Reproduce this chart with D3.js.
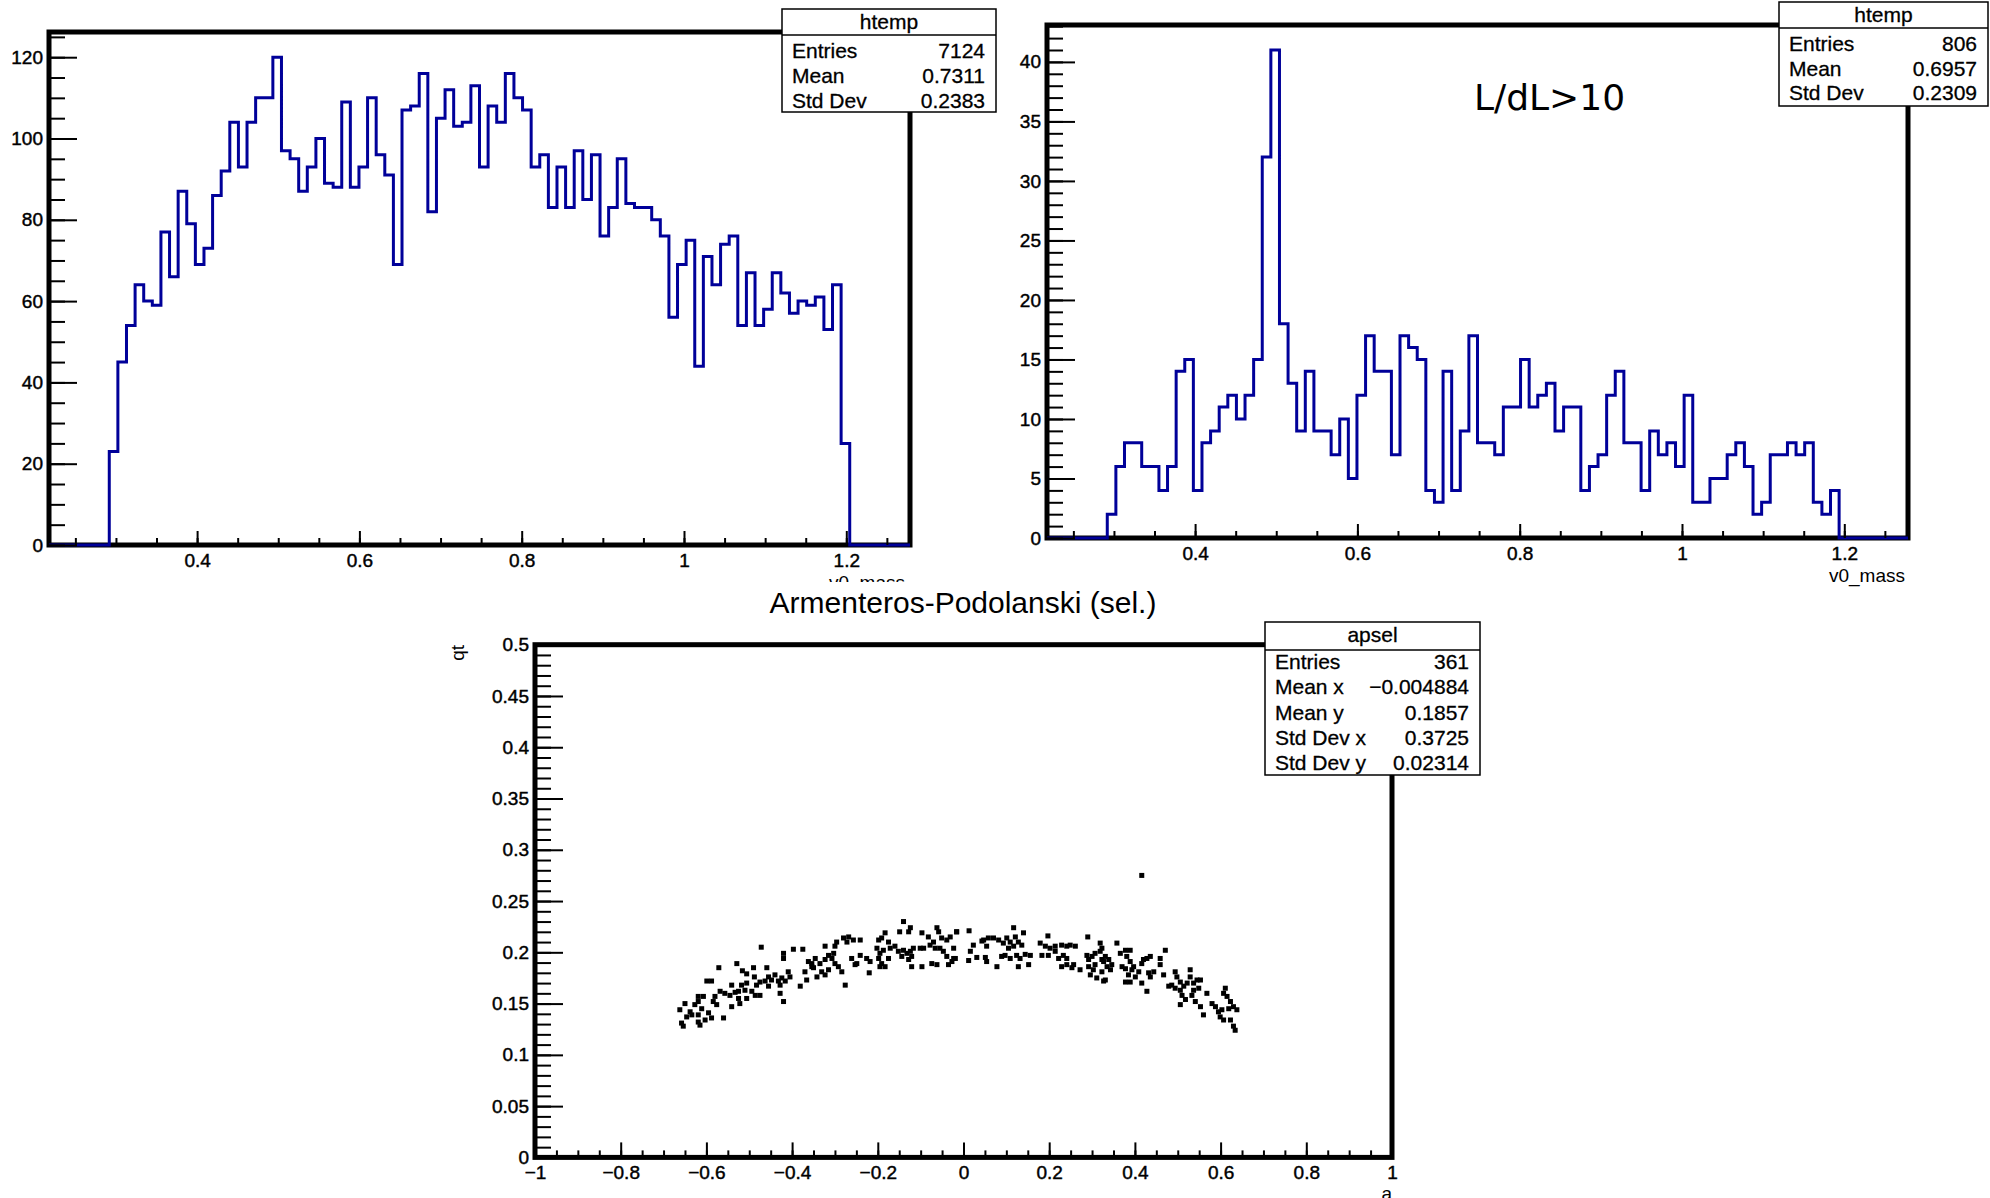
<!DOCTYPE html>
<html>
<head>
<meta charset="utf-8">
<script src="https://cdnjs.cloudflare.com/ajax/libs/d3/7.8.5/d3.min.js"></script>
<style>
body { margin: 0; background: #fff; }
svg { display: block; font-family: "Liberation Sans", Arial, Helvetica, sans-serif; }
</style>
</head>
<body>
<svg id="chart" width="1990" height="1198"></svg>
<script>
// v0_mass binning (both histograms use the same htemp range)
var xMin = 0.2175, xMax = 1.2785, nBins = 100;

// all candidates, 100 bins
var allCounts = [
    0, 0, 0, 0, 0, 0, 0, 23, 45, 54,
    64, 60, 59, 77, 66, 87, 79, 69, 73, 86,
    92, 104, 93, 104, 110, 110, 120, 97, 95, 87,
    93, 100, 89, 88, 109, 88, 93, 110, 96, 91,
    69, 107, 108, 116, 82, 105, 112, 103, 104, 113,
    93, 108, 104, 116, 110, 107, 93, 96, 83, 93,
    83, 97, 85, 96, 76, 83, 95, 84, 83, 83,
    80, 76, 56, 69, 75, 44, 71, 64, 74, 76,
    54, 67, 54, 58, 67, 62, 57, 60, 59, 61,
    53, 64, 25, 0, 0, 0, 0, 0, 0, 0
];

// L/dL>10 selection, 100 bins
var selCounts = [
    0, 0, 0, 0, 0, 0, 0, 2, 6, 8,
    8, 6, 6, 4, 6, 14, 15, 4, 8, 9,
    11, 12, 10, 12, 15, 32, 41, 18, 13, 9,
    14, 9, 9, 7, 10, 5, 12, 17, 14, 14,
    7, 17, 16, 15, 4, 3, 14, 4, 9, 17,
    8, 8, 7, 11, 11, 15, 11, 12, 13, 9,
    11, 11, 4, 6, 7, 12, 14, 8, 8, 4,
    9, 7, 8, 6, 12, 3, 3, 5, 5, 7,
    8, 6, 2, 3, 7, 7, 8, 7, 8, 3,
    2, 4, 0, 0, 0, 0, 0, 0, 0, 0
];

var massTicks = [0.4, 0.6, 0.8, 1, 1.2];
var allYTicks = [0, 20, 40, 60, 80, 100, 120];
var selYTicks = [0, 5, 10, 15, 20, 25, 30, 35, 40];
var apTicksX = [-1, -0.8, -0.6, -0.4, -0.2, 0, 0.2, 0.4, 0.6, 0.8, 1];
var apTicksY = [0, 0.05, 0.1, 0.15, 0.2, 0.25, 0.3, 0.35, 0.4, 0.45, 0.5];

var statsAll = [["Entries", "7124"], ["Mean", "0.7311"], ["Std Dev", "0.2383"]];
var statsSel = [["Entries", "806"], ["Mean", "0.6957"], ["Std Dev", "0.2309"]];
var statsAp = [["Entries", "361"], ["Mean x", "\u22120.004884"], ["Mean y", "0.1857"],
               ["Std Dev x", "0.3725"], ["Std Dev y", "0.02314"]];

// Armenteros-Podolanski points [alpha, qt]
var apPoints = [
    [-0.472,0.205],[-0.420,0.199],[-0.397,0.203],[-0.375,0.203],[-0.420,0.194],[-0.571,0.185],
    [-0.529,0.189],[-0.362,0.191],[-0.354,0.186],[-0.370,0.181],[-0.516,0.182],[-0.506,0.179],
    [-0.490,0.185],[-0.488,0.176],[-0.459,0.185],[-0.455,0.176],[-0.448,0.173],[-0.440,0.178],
    [-0.432,0.172],[-0.428,0.168],[-0.424,0.175],[-0.409,0.181],[-0.405,0.176],[-0.416,0.172],
    [-0.463,0.172],[-0.455,0.167],[-0.599,0.172],[-0.588,0.172],[-0.541,0.168],[-0.506,0.170],
    [-0.483,0.168],[-0.475,0.171],[-0.494,0.162],[-0.486,0.158],[-0.475,0.158],[-0.568,0.162],
    [-0.557,0.160],[-0.545,0.158],[-0.533,0.161],[-0.518,0.168],[-0.525,0.162],[-0.510,0.163],
    [-0.381,0.167],[-0.366,0.173],[-0.428,0.160],[-0.420,0.152],[-0.619,0.157],[-0.607,0.157],
    [-0.580,0.157],[-0.584,0.152],[-0.576,0.149],[-0.525,0.155],[-0.522,0.150],[-0.506,0.155],
    [-0.541,0.147],[-0.650,0.150],[-0.662,0.144],[-0.638,0.142],[-0.627,0.149],[-0.619,0.152],
    [-0.611,0.145],[-0.634,0.139],[-0.619,0.139],[-0.595,0.141],[-0.588,0.136],[-0.560,0.136],
    [-0.646,0.137],[-0.619,0.132],[-0.615,0.129],[-0.658,0.131],[-0.654,0.128],[-0.603,0.134],
    [-0.140,0.230],[-0.149,0.220],[-0.124,0.224],[-0.128,0.220],[-0.097,0.219],[-0.082,0.215],
    [-0.062,0.224],[-0.058,0.220],[-0.051,0.214],[-0.070,0.210],[-0.066,0.204],[-0.078,0.207],
    [-0.055,0.204],[-0.039,0.212],[-0.031,0.215],[-0.016,0.220],[-0.023,0.204],[-0.183,0.219],
    [-0.198,0.212],[-0.191,0.214],[-0.175,0.210],[-0.280,0.214],[-0.268,0.215],[-0.257,0.212],
    [-0.241,0.212],[-0.272,0.210],[-0.323,0.206],[-0.296,0.210],[-0.300,0.206],[-0.202,0.204],
    [-0.195,0.199],[-0.187,0.202],[-0.171,0.204],[-0.160,0.206],[-0.152,0.201],[-0.140,0.202],
    [-0.132,0.199],[-0.124,0.201],[-0.121,0.196],[-0.117,0.204],[-0.101,0.204],[-0.093,0.204],
    [-0.198,0.194],[-0.191,0.189],[-0.183,0.186],[-0.175,0.194],[-0.195,0.186],[-0.144,0.196],
    [-0.128,0.193],[-0.121,0.186],[-0.097,0.186],[-0.074,0.189],[-0.062,0.188],[-0.039,0.196],
    [-0.027,0.191],[-0.023,0.194],[-0.035,0.188],[-0.047,0.201],[-0.346,0.194],[-0.354,0.189],
    [-0.350,0.185],[-0.335,0.189],[-0.323,0.193],[-0.315,0.197],[-0.303,0.199],[-0.307,0.194],
    [-0.300,0.189],[-0.292,0.186],[-0.284,0.181],[-0.331,0.181],[-0.342,0.176],[-0.323,0.178],
    [-0.315,0.183],[-0.261,0.194],[-0.249,0.189],[-0.241,0.197],[-0.253,0.188],[-0.226,0.194],
    [-0.218,0.191],[-0.220,0.180],[-0.276,0.168],
    [-0.016,0.220],[0.013,0.221],[0.117,0.224],[0.140,0.219],[0.197,0.216],[0.290,0.215],
    [0.319,0.209],[0.023,0.207],[0.043,0.211],[0.054,0.206],[0.051,0.195],[0.031,0.195],
    [0.016,0.201],[0.058,0.214],[0.070,0.214],[0.047,0.212],[0.082,0.212],[0.093,0.209],
    [0.101,0.214],[0.109,0.210],[0.121,0.215],[0.128,0.210],[0.117,0.206],[0.136,0.207],
    [0.105,0.204],[0.097,0.197],[0.089,0.196],[0.109,0.194],[0.124,0.197],[0.132,0.194],
    [0.144,0.198],[0.156,0.197],[0.152,0.188],[0.128,0.186],[0.078,0.186],[0.012,0.192],
    [-0.019,0.194],[0.054,0.191],[0.179,0.209],[0.191,0.206],[0.202,0.204],[0.214,0.206],
    [0.229,0.207],[0.241,0.206],[0.249,0.207],[0.261,0.206],[0.183,0.197],[0.198,0.197],
    [0.214,0.201],[0.222,0.194],[0.233,0.197],[0.241,0.194],[0.229,0.186],[0.241,0.188],
    [0.253,0.185],[0.257,0.188],[0.272,0.183],[0.288,0.197],[0.292,0.193],[0.300,0.196],
    [0.307,0.199],[0.319,0.201],[0.323,0.193],[0.292,0.186],[0.303,0.183],[0.296,0.178],
    [0.311,0.175],[0.307,0.188],[0.323,0.181],[0.327,0.172],
    [0.416,0.275],[0.323,0.204],[0.331,0.196],[0.327,0.191],[0.339,0.193],[0.335,0.186],
    [0.346,0.188],[0.343,0.183],[0.331,0.173],[0.358,0.209],[0.366,0.199],[0.378,0.202],
    [0.389,0.202],[0.381,0.196],[0.370,0.186],[0.378,0.184],[0.389,0.191],[0.393,0.183],
    [0.397,0.186],[0.385,0.178],[0.378,0.171],[0.389,0.171],[0.401,0.176],[0.409,0.181],
    [0.416,0.170],[0.428,0.162],[0.420,0.193],[0.428,0.194],[0.436,0.196],[0.416,0.189],
    [0.432,0.180],[0.436,0.176],[0.444,0.181],[0.459,0.194],[0.459,0.188],[0.471,0.202],
    [0.467,0.178],[0.494,0.181],[0.498,0.176],[0.506,0.171],[0.486,0.168],[0.479,0.167],
    [0.494,0.165],[0.506,0.163],[0.514,0.167],[0.522,0.170],[0.529,0.183],[0.529,0.176],
    [0.537,0.170],[0.545,0.173],[0.553,0.173],[0.549,0.165],[0.537,0.163],[0.510,0.158],
    [0.506,0.149],[0.518,0.154],[0.533,0.158],[0.541,0.152],[0.553,0.147],[0.568,0.160],
    [0.560,0.139],[0.580,0.150],[0.588,0.147],[0.595,0.142],[0.603,0.144],[0.611,0.165],
    [0.607,0.160],[0.615,0.157],[0.623,0.152],[0.630,0.147],[0.638,0.144],[0.619,0.145],
    [0.599,0.137],[0.607,0.134],[0.623,0.134],[0.630,0.128],[0.634,0.124]
];

var svg = d3.select("#chart");
svg.append("rect").attr("width", 1990).attr("height", 1198).attr("fill", "#fff");

var fmt = d3.format("~g");

function styleAxis(g) {
    g.attr("font-size", 19).attr("font-family", null);
    g.select(".domain").remove();
    g.selectAll("line").attr("stroke-width", 2);
    // ROOT's Helvetica labels come out a bit heavier
    g.selectAll("text").attr("fill", "#000").attr("stroke", "#000").attr("stroke-width", 0.45);
}

// frame + ticks for one pad
function drawAxes(xs, ys, o) {
    var b = ys.range()[0], l = xs.range()[0];
    var g = svg.append("g");
    g.append("g").attr("transform", `translate(0,${b})`)
        .call(d3.axisBottom(xs).tickValues(o.xMinor).tickSize(-o.xMinLen).tickFormat(""))
        .call(styleAxis);
    g.append("g").attr("transform", `translate(0,${b})`)
        .call(d3.axisBottom(xs).tickValues(o.xTicks).tickSize(-o.xMajLen).tickPadding(8.5).tickFormat(fmt))
        .call(styleAxis);
    g.append("g").attr("transform", `translate(${l},0)`)
        .call(d3.axisLeft(ys).tickValues(o.yMinor).tickSize(-16).tickFormat(""))
        .call(styleAxis);
    g.append("g").attr("transform", `translate(${l},0)`)
        .call(d3.axisLeft(ys).tickValues(o.yTicks).tickSize(-28).tickPadding(6).tickFormat(fmt))
        .call(styleAxis);
}

function drawFrame(xs, ys) {
    svg.append("rect")
        .attr("x", xs.range()[0]).attr("y", ys.range()[1])
        .attr("width", xs.range()[1] - xs.range()[0])
        .attr("height", ys.range()[0] - ys.range()[1])
        .attr("fill", "none").attr("stroke", "#000").attr("stroke-width", 5);
}

function statsBox(b, title, rows) {
    var g = svg.append("g").attr("font-size", 21).attr("fill", "#000");
    g.append("rect").attr("x", b.x).attr("y", b.y).attr("width", b.w).attr("height", b.h)
        .attr("fill", "#fff").attr("stroke", "#000").attr("stroke-width", 1.5);
    g.append("line").attr("x1", b.x).attr("x2", b.x + b.w).attr("y1", b.head).attr("y2", b.head)
        .attr("stroke", "#000").attr("stroke-width", 1.5);
    g.append("text").attr("x", b.x + b.w / 2).attr("y", b.titleY)
        .attr("text-anchor", "middle").text(title);
    rows.forEach(function(r, i) {
        var y = b.row0 + i * b.dy;
        g.append("text").attr("x", b.x + 10).attr("y", y).text(r[0]);
        g.append("text").attr("x", b.x + b.w - 11).attr("y", y)
            .attr("text-anchor", "end").text(r[1]);
    });
    g.selectAll("text").attr("stroke", "#000").attr("stroke-width", 0.3);
}

function drawHist(counts, frame, yMax, yTicks, yMinorStep) {
    var xs = d3.scaleLinear().domain([xMin, xMax]).range([frame.left, frame.right]);
    var ys = d3.scaleLinear().domain([0, yMax]).range([frame.bottom, frame.top]);
    var w = (xMax - xMin) / nBins;
    var pts = counts.map((c, i) => [xMin + i * w, c]);
    pts.push([xMax, counts[counts.length - 1]]);

    drawFrame(xs, ys);
    svg.append("path")
        .attr("d", d3.line().x(d => xs(d[0])).y(d => ys(d[1])).curve(d3.curveStepAfter)(pts))
        .attr("fill", "none").attr("stroke", "#000099").attr("stroke-width", 3);
    drawAxes(xs, ys, {
        xTicks: massTicks, xMinor: d3.range(0.25, 1.27, 0.05), xMajLen: 14, xMinLen: 7,
        yTicks: yTicks, yMinor: d3.range(0, yMax, yMinorStep)
    });
    return xs;
}

// ---- top left: all candidates
drawHist(allCounts, {left: 49, right: 910, top: 32, bottom: 545}, 126.2, allYTicks, 5);
svg.append("text").attr("x", 905).attr("y", 589).attr("text-anchor", "end")
    .attr("font-size", 19).text("v0_mass");
statsBox({x: 782, y: 9, w: 214, h: 103, head: 35, titleY: 29, row0: 58, dy: 24.8}, "htemp", statsAll);

// ---- top right: L/dL > 10
drawHist(selCounts, {left: 1047, right: 1908, top: 25, bottom: 538}, 43.1, selYTicks, 1);
svg.append("text").attr("x", 1905).attr("y", 582).attr("text-anchor", "end")
    .attr("font-size", 19).text("v0_mass");
svg.append("text").attr("x", 1474).attr("y", 110)
    .attr("font-family", "DejaVu Sans").attr("font-size", 36).text("L/dL>10");
statsBox({x: 1779, y: 2, w: 209, h: 104, head: 28, titleY: 22, row0: 51, dy: 24.5}, "htemp", statsSel);

// ---- bottom pad: Armenteros-Podolanski
svg.append("rect").attr("x", 0).attr("y", 582).attr("width", 1000).attr("height", 616).attr("fill", "#fff");

var ax = d3.scaleLinear().domain([-1, 1]).range([535, 1392]);
var ay = d3.scaleLinear().domain([0, 0.5]).range([1157.4, 644.7]);

svg.append("text").attr("x", 963).attr("y", 613).attr("text-anchor", "middle")
    .attr("font-size", 30).text("Armenteros-Podolanski (sel.)");

drawFrame(ax, ay);
svg.append("g").selectAll("rect")
    .data(apPoints)
    .enter()
    .append("rect")
    .attr("x", d => ax(d[0]) - 2.5)
    .attr("y", d => ay(d[1]) - 2.5)
    .attr("width", 5).attr("height", 5)
    .attr("fill", "#000");
drawAxes(ax, ay, {
    xTicks: apTicksX, xMinor: d3.range(-1, 1.001, 0.05), xMajLen: 15, xMinLen: 7,
    yTicks: apTicksY, yMinor: d3.range(0, 0.5001, 0.01)
});

svg.append("text").attr("transform", "translate(464,645) rotate(-90)")
    .attr("text-anchor", "end").attr("font-size", 19).text("qt");
svg.append("text").attr("x", 1392).attr("y", 1200).attr("text-anchor", "end")
    .attr("font-size", 19).text("a");

statsBox({x: 1265, y: 622, w: 215, h: 153, head: 650, titleY: 642, row0: 669, dy: 25.3}, "apsel", statsAp);
</script>
</body>
</html>
